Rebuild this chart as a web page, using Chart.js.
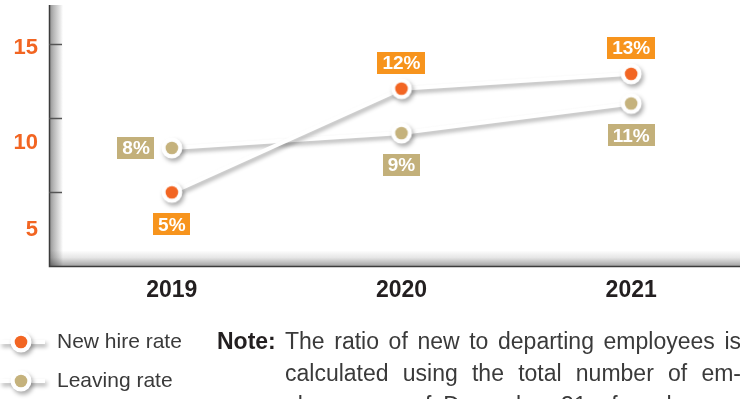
<!DOCTYPE html>
<html>
<head>
<meta charset="utf-8">
<script src="https://cdn.jsdelivr.net/npm/chart.js@4.4.0/dist/chart.umd.min.js"></script>
<style>
  html, body { margin: 0; padding: 0; background: #fff; overflow: hidden; width: 740px; height: 399px; }
  #wrap { position: absolute; left: 0; top: 0; width: 748px; height: 399px; }
  .note { position: absolute; top: 325px; font-family: "Liberation Sans", Arial, sans-serif;
          font-size: 23px; line-height: 32px; color: #3a3a3a; }
  .note-head { left: 217px; font-weight: bold; color: #231f20; }
  .note-body { left: 285px; width: 456px; }
  .note-body div { white-space: nowrap; text-align: justify; text-align-last: justify; }
</style>
</head>
<body>
<div id="wrap"><canvas id="c"></canvas></div>
<div class="note note-head">Note:</div>
<div class="note note-body">
  <div>The ratio of new to departing employees is</div>
  <div>calculated using the total number of em-</div>
  <div>ployees as of December 31 of each year.</div>
</div>
<script>
// ── Data ────────────────────────────────────────────────────────────────
const years = ['2019', '2020', '2021'];
const newHireRate = [5, 12, 13];
const leavingRate = [8, 9, 11];
const yTicks = [5, 10, 15];
const seriesNames = ['New hire rate', 'Leaving rate'];
const newHireLabelSide = ['below', 'above', 'above'];
const leavingLabelSide = ['left', 'below', 'below'];

// ── Styles ──────────────────────────────────────────────────────────────
const FONT = '"Liberation Sans", Arial, sans-serif';
const ORANGE_DOT = '#F26522';
const TAN_DOT = '#C5B27C';
const ORANGE_BOX = '#F7941D';
const TAN_BOX = '#C3B07A';
const Y_LABEL_SHIFT = [37, 24, 3];   // tick labels sit below their tick marks in the original
const AXIS_X = 49, BAR_W = 14, BAR_TOP = 5, BAR_H = 16;

const SIDES = [newHireLabelSide, leavingLabelSide];
const BOXES = [ORANGE_BOX, TAN_BOX];

// white ring marker with a coloured dot, used as pointStyle
function marker(color) {
  const c = document.createElement('canvas');
  c.width = 24; c.height = 24;
  const x = c.getContext('2d');
  x.fillStyle = '#fff';
  x.beginPath(); x.arc(12, 12, 10.5, 0, Math.PI * 2); x.fill();
  x.fillStyle = color;
  x.beginPath(); x.arc(12, 12, 6.3, 0, Math.PI * 2); x.fill();
  return c;
}
const MARKERS = [marker(ORANGE_DOT), marker(TAN_DOT)];

function setShadow(ctx) {
  ctx.shadowColor = 'rgba(0,0,0,0.32)';
  ctx.shadowBlur = 4;
  ctx.shadowOffsetX = 2;
  ctx.shadowOffsetY = 3;
}

// gray "3D" axis frame, tick marks and y labels
const frame = {
  id: 'frame',
  beforeDatasetsDraw(chart) {
    const { ctx, chartArea: a, scales: { y } } = chart;
    const bot = a.bottom;
    ctx.save();
    let g = ctx.createLinearGradient(0, bot - BAR_H, 0, bot);
    g.addColorStop(0, '#ffffff');
    g.addColorStop(0.45, '#e6e6e6');
    g.addColorStop(1, '#a0a0a0');
    ctx.fillStyle = g;
    ctx.fillRect(AXIS_X, bot - BAR_H, chart.width - AXIS_X, BAR_H);

    ctx.globalCompositeOperation = 'multiply';
    g = ctx.createLinearGradient(AXIS_X, 0, AXIS_X + BAR_W, 0);
    g.addColorStop(0, '#8c8c8c');
    g.addColorStop(0.3, '#b4b4b4');
    g.addColorStop(0.75, '#e2e2e2');
    g.addColorStop(1, '#ffffff');
    ctx.fillStyle = g;
    ctx.fillRect(AXIS_X, BAR_TOP, BAR_W, bot - BAR_TOP);
    ctx.globalCompositeOperation = 'source-over';

    ctx.strokeStyle = '#3c3c3c';
    ctx.lineWidth = 1.5;
    ctx.beginPath();
    ctx.moveTo(AXIS_X + 0.5, BAR_TOP);
    ctx.lineTo(AXIS_X + 0.5, bot);
    ctx.lineTo(chart.width, bot);
    ctx.stroke();

    ctx.strokeStyle = '#555';
    ctx.font = 'bold 22px ' + FONT;
    ctx.fillStyle = ORANGE_DOT;
    ctx.textAlign = 'right';
    ctx.textBaseline = 'middle';
    yTicks.forEach((v, i) => {
      const py = Math.round(y.getPixelForValue(v)) + 0.5;
      ctx.beginPath();
      ctx.moveTo(AXIS_X, py);
      ctx.lineTo(AXIS_X + BAR_W - 1, py);
      ctx.stroke();
      ctx.fillText(String(v), 38, py + Y_LABEL_SHIFT[i]);
    });
    ctx.restore();
  }
};

// drop shadow under lines and markers
const shadow = {
  id: 'shadow',
  beforeDatasetDraw(chart) {
    chart.ctx.save();
    setShadow(chart.ctx);
  },
  afterDatasetDraw(chart) { chart.ctx.restore(); }
};

// value boxes ("12%")
const valueBoxes = {
  id: 'valueBoxes',
  afterDatasetsDraw(chart) {
    const ctx = chart.ctx;
    ctx.save();
    ctx.font = 'bold 19px ' + FONT;
    ctx.textAlign = 'center';
    ctx.textBaseline = 'middle';
    chart.data.datasets.forEach((ds, di) => {
      const meta = chart.getDatasetMeta(di);
      meta.data.forEach((pt, i) => {
        const txt = ds.data[i] + '%';
        const w = ctx.measureText(txt).width + 10, h = 22;
        let cx = pt.x, cy = pt.y;
        const side = SIDES[di][i];
        if (side === 'above') cy -= 26;
        else if (side === 'below') cy += 32;
        else if (side === 'left') cx = pt.x - 17 - w / 2;
        ctx.fillStyle = BOXES[di];
        ctx.fillRect(Math.round(cx - w / 2), Math.round(cy - h / 2), Math.round(w), h);
        ctx.fillStyle = '#fff';
        ctx.fillText(txt, cx, cy + 1);
      });
    });
    ctx.restore();
  }
};

// legend at the bottom left
const legendBox = {
  id: 'legendBox',
  afterDraw(chart) {
    const ctx = chart.ctx;
    const rows = [342, 381];
    chart.data.datasets.forEach((ds, di) => {
      const y = rows[di];
      ctx.save();
      setShadow(ctx);
      ctx.strokeStyle = '#fff';
      ctx.lineWidth = 4;
      ctx.beginPath();
      ctx.moveTo(0, y);
      ctx.lineTo(45, y);
      ctx.stroke();
      ctx.drawImage(MARKERS[di], 21 - 12, y - 12);
      ctx.restore();

      ctx.save();
      ctx.font = '21px ' + FONT;
      ctx.fillStyle = '#3a3a3a';
      ctx.textAlign = 'left';
      ctx.textBaseline = 'middle';
      ctx.fillText(ds.label, 57, y);
      ctx.restore();
    });
  }
};

function series(label, data, idx) {
  return {
    label,
    data,
    borderColor: '#ffffff',
    borderWidth: 4,
    tension: 0,
    pointStyle: MARKERS[idx],
    pointRadius: 10,
    clip: false
  };
}

new Chart(document.getElementById('c'), {
  type: 'line',
  data: {
    labels: years,
    datasets: [
      series(seriesNames[0], newHireRate, 0),
      series(seriesNames[1], leavingRate, 1)
    ]
  },
  options: {
    responsive: true,
    maintainAspectRatio: false,
    animation: false,
    layout: { autoPadding: false, padding: { left: 57, right: 2, top: 5, bottom: 85 } },
    plugins: { legend: { display: false }, tooltip: { enabled: false } },
    scales: {
      x: {
        offset: true,
        grid: { display: false, drawTicks: false },
        border: { display: false },
        ticks: { color: '#231f20', font: { family: FONT, size: 23, weight: 'bold' }, padding: 10 }
      },
      y: { display: false, min: 0, max: 17.65 }
    }
  },
  plugins: [frame, shadow, valueBoxes, legendBox]
});
</script>
</body>
</html>
